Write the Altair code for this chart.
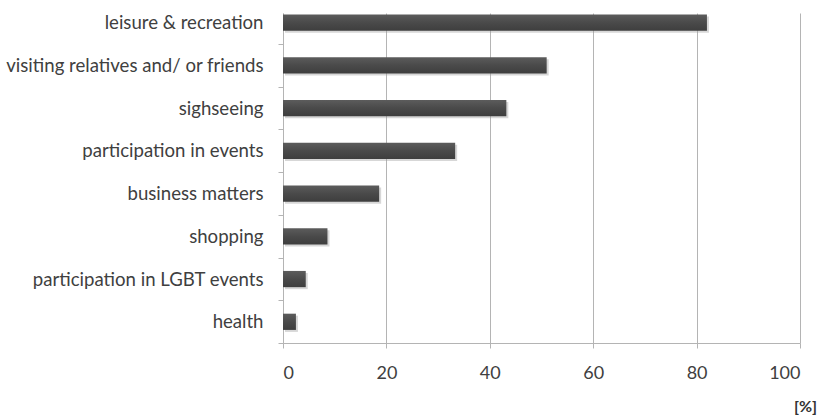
import altair as alt
import pandas as pd

# Purpose of the trip, share of respondents in percent
purposes = [
    "leisure & recreation",
    "visiting relatives and/ or friends",
    "sighseeing",
    "participation in events",
    "business matters",
    "shopping",
    "participation in LGBT events",
    "health",
]
shares = [82.0, 51.0, 43.2, 33.3, 18.6, 8.6, 4.4, 2.5]

df = pd.DataFrame({"purpose": purposes, "share": shares})

FONT = "Lato"
TEXT = "#404040"
GRID = "#b4b4b4"

y_enc = alt.Y(
    "purpose:N",
    sort=purposes,
    scale=alt.Scale(paddingInner=0.62, paddingOuter=0.17, align=0.1),
    axis=alt.Axis(
        title=None,
        labelFont=FONT,
        labelFontSize=18.6,
        labelColor=TEXT,
        labelPadding=15,
        tickSize=5,
        tickColor=GRID,
        domainColor=GRID,
        tickOffset=21.35,
        labelOffset=-21.35,
        grid=False,
        labelLimit=300,
    ),
)

x_enc = alt.X(
    "share:Q",
    scale=alt.Scale(domain=[0, 100], nice=False),
    axis=alt.Axis(
        values=[0, 20, 40, 60, 80, 100],
        title="[%]",
        titleFont=FONT,
        titleFontSize=16,
        titleFontWeight="bold",
        titleColor="#333333",
        titleX=522,
        titleY=63,
        titleAlign="center",
        titleBaseline="middle",
        titleAngle=0,
        labelFont=FONT,
        labelFontSize=18,
        labelColor=TEXT,
        labelPadding=16,
        tickSize=5,
        tickColor=GRID,
        domainColor=GRID,
        grid=True,
        gridColor=GRID,
        gridWidth=1,
    ),
)

shadow = alt.Chart(df).mark_bar(
    color="#9a9a9a", opacity=0.4, xOffset=2, yOffset=2
).encode(x=x_enc, y=y_enc)

bars = alt.Chart(df).mark_bar(
    color=alt.Gradient(
        gradient="linear",
        stops=[
            alt.GradientStop(color="#5c5c5c", offset=0),
            alt.GradientStop(color="#4a4a4a", offset=0.5),
            alt.GradientStop(color="#3e3e3e", offset=1),
        ],
        x1=0, x2=0, y1=0, y2=1,
    )
).encode(x=x_enc, y=y_enc)

chart = (
    alt.layer(shadow, bars)
    .properties(
        width=517,
        height=330,
        autosize=alt.AutoSizeParams(type="none"),
        padding={"left": 283, "top": 13, "right": 20, "bottom": 72},
        background="white",
    )
    .configure_view(stroke=None)
)

chart.save("out.html", embed_options={"renderer": "svg", "actions": False})
